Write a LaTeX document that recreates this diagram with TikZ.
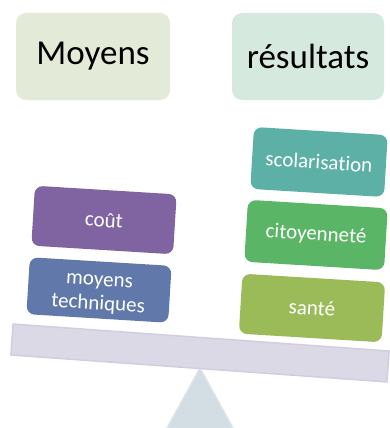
\documentclass[tikz,border=0pt]{standalone}
\usepackage{fontspec}
\setmainfont[Ligatures=NoCommon]{Carlito}
\definecolor{moyfill}{HTML}{E3EAD7}
\definecolor{resfill}{HTML}{D6E9DE}
\definecolor{coutc}{HTML}{8064A2}
\definecolor{techc}{HTML}{6079AA}
\definecolor{scolc}{HTML}{5CB0A6}
\definecolor{citc}{HTML}{5BB566}
\definecolor{santc}{HTML}{9BBB59}
\definecolor{barfill}{HTML}{DCD9E6}
\definecolor{bardraw}{HTML}{D2CDE0}
\definecolor{trifill}{HTML}{D3DEE4}
\definecolor{tridraw}{HTML}{DCE5EA}
\tikzset{
  headbox/.style={rounded corners=10pt, inner sep=0pt, font=\fontsize{35}{40}\selectfont, text=black},
  itembox/.style={rounded corners=8pt, inner sep=0pt, rotate=-3.5, text=white,
    font=\fontsize{21}{24}\selectfont, align=center}
}
\begin{document}
\begin{tikzpicture}[x=1pt,y=-1pt]
\useasboundingbox (0,0) rectangle (390,428);
\clip (0,0) rectangle (390,428);
% fulcrum
\coordinate (apex) at (200,368);
\coordinate (bl) at (160.4,440);
\coordinate (br) at (239.6,440);
\filldraw[fill=trifill, draw=tridraw, line width=1.5pt, line join=round] (apex) -- (bl) -- (br) -- cycle;
% beam
\node[draw=bardraw, fill=barfill, line width=1.5pt, minimum width=377pt, minimum height=31pt, inner sep=0pt, rotate=-4.1] (beam) at (200,353) {};
% headers
\node[headbox, fill=moyfill, minimum width=154pt, minimum height=87pt] (moy) at (93,56.5) {Moyens};
\node[headbox, fill=resfill, minimum width=152pt, minimum height=87pt] (res) at (308,56.5) {résultats};
% left items
\node[itembox, fill=coutc, minimum width=142pt, minimum height=60pt] (cout) at (104,220) {coût};
\node[itembox, fill=techc, minimum width=142pt, minimum height=57pt] (tech) at (99,290) {\rule{0pt}{19pt}moyens\\techniques};
% right items
\node[itembox, fill=scolc, minimum width=134pt, minimum height=62pt] (scol) at (319,162) {scolarisation};
\node[itembox, fill=citc, minimum width=140pt, minimum height=62pt] (cit) at (316,235) {citoyenneté};
\node[itembox, fill=santc, minimum width=143pt, minimum height=60pt] (sant) at (312,308) {santé};
\end{tikzpicture}
\end{document}
